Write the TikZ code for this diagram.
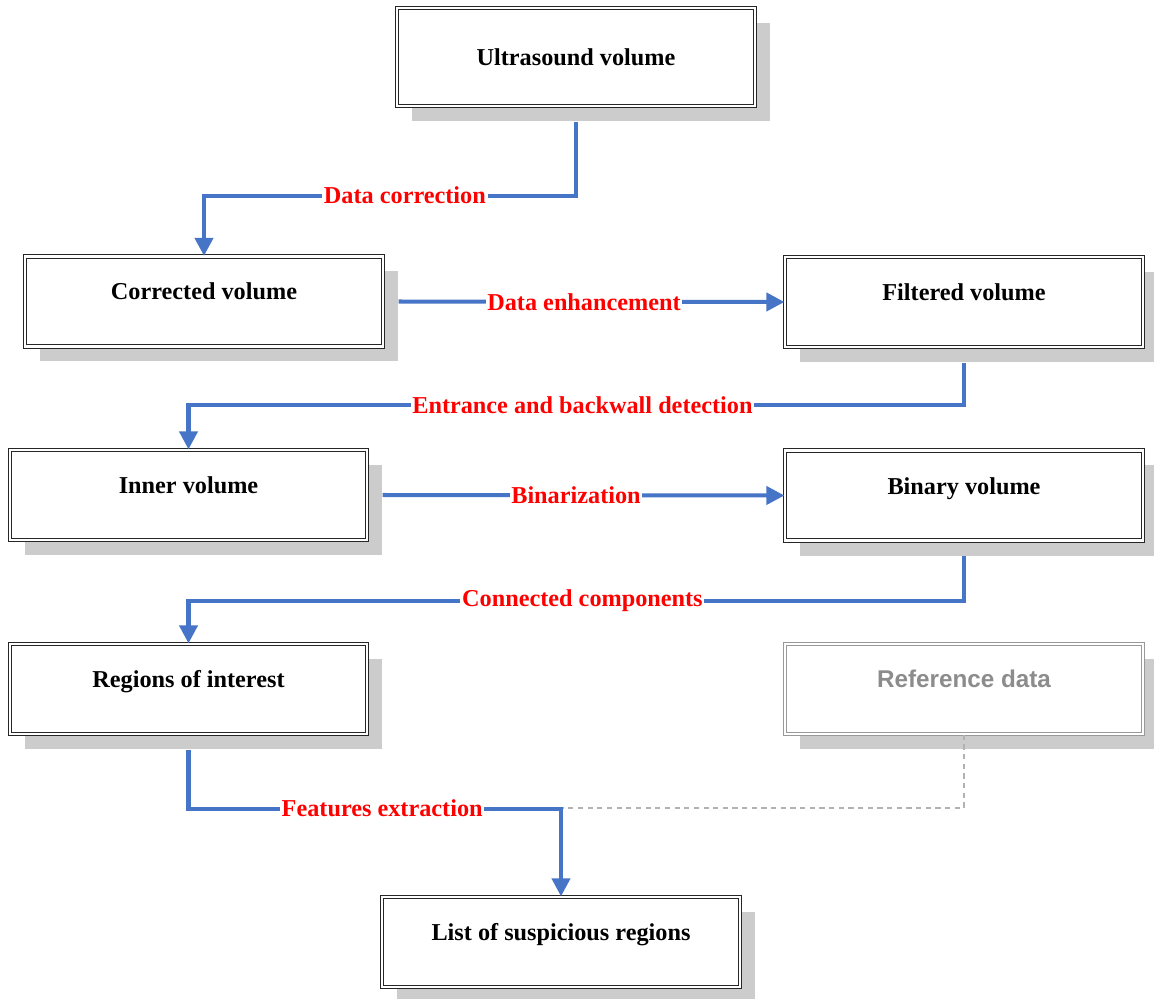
\documentclass[tikz,border=0pt]{standalone}
\usepackage{fontspec}
\setmainfont{Liberation Serif}
\newfontfamily\refsans{Liberation Sans}
\usepackage{tikz}
\usetikzlibrary{arrows.meta, shadows}
\usepackage{xcolor}
\definecolor{flowblue}{HTML}{4674C6}
\definecolor{shadowgray}{HTML}{CCCCCC}

\begin{document}
\begin{tikzpicture}[
box/.style={draw=black!85,
double=white,
double distance=1.3pt,
line width=0.7pt,
fill=white,
rectangle,
minimum width=7.16cm,
minimum height=1.8cm,
text height=0.3cm,
text depth=0.36cm,
align=center,
font=\fontsize{13.8}{16}\selectfont\bfseries,
drop shadow={shadow xshift=0.3cm, shadow yshift=-0.3cm, fill=shadowgray, opacity=1}},
refbox/.style={box, draw=black!40, text=black!45, font=\fontsize{13.8}{16}\selectfont\refsans\bfseries},
arrow/.style={-{Triangle[length=0.36cm, width=0.36cm]}, line width=2.3pt, draw=flowblue, shorten <=0.3cm},
lbl/.style={fill=white, inner sep=1pt, text=red, font=\fontsize{13.8}{16}\selectfont\bfseries},
refline/.style={draw=black!30, line width=1.1pt, dash pattern=on 3pt off 2.5pt}
]
\useasboundingbox (0,0) rectangle (23.08,-19.98);

\node[box, minimum height=1.96cm, text height=, text depth=] (us) at (11.52,-1.14) {Ultrasound volume};
\node[box] (cv) at (4.08,-6.03) {Corrected volume};
\node[box] (fv) at (19.28,-6.04) {Filtered volume};
\node[box, minimum width=7.14cm] (iv) at (3.77,-9.9) {Inner volume};
\node[box] (bv) at (19.28,-9.91) {Binary volume};
\node[box, minimum width=7.14cm] (roi) at (3.77,-13.78) {Regions of interest};
\node[refbox] (ref) at (19.28,-13.78) {Reference data};
\node[box] (list) at (11.22,-18.84) {List of suspicious regions};

\draw[arrow] (us.south) -- ++(0,-1.78) -| (cv.north) node[lbl, pos=0.23] (l1) {Data correction};
\draw[arrow] (cv.east) -- (fv.west) node[lbl, midway] (l2) {Data enhancement};
\draw[arrow] (fv.south) -- ++(0,-1.15) -| (iv.north) node[lbl, pos=0.246] (l3) {Entrance and backwall detection};
\draw[arrow] (iv.east) -- (bv.west) node[lbl, midway] (l4) {Binarization};
\draw[arrow] (bv.south) -- ++(0,-1.19) -| (roi.north) node[lbl, pos=0.246] (l5) {Connected components};
\draw[refline] (ref.south) |- (11.26,-16.16);
\draw[arrow] (roi.south) -- ++(0,-1.48) coordinate (fbend) -| (list.north) node[lbl, pos=0.26] (l6) {Features extraction};

\end{tikzpicture}
\end{document}
